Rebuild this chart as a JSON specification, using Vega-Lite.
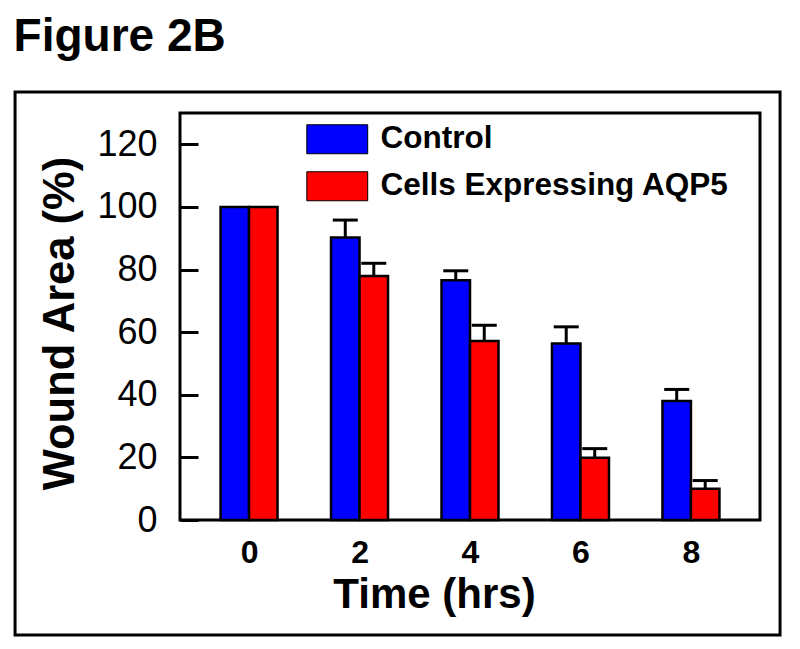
{
  "$schema": "https://vega.github.io/schema/vega-lite/v6.json",
  "width": 580,
  "height": 407,
  "autosize": {"type": "none"},
  "padding": {"left": 180, "top": 113, "right": 40, "bottom": 129},
  "background": "white",
  "title": {"text": "Figure 2B", "anchor": "start", "frame": "bounds", "fontSize": 46, "fontWeight": "bold", "font": "Liberation Sans", "color": "black", "offset": 30},
  "data": {"values": [
    {"time": 0, "group": "Control", "value": 100, "hi": 100},
    {"time": 2, "group": "Control", "value": 90.2, "hi": 95.8},
    {"time": 4, "group": "Control", "value": 76.6, "hi": 79.6},
    {"time": 6, "group": "Control", "value": 56.4, "hi": 61.7},
    {"time": 8, "group": "Control", "value": 38, "hi": 41.7},
    {"time": 0, "group": "Cells Expressing AQP5", "value": 100, "hi": 100},
    {"time": 2, "group": "Cells Expressing AQP5", "value": 77.9, "hi": 82},
    {"time": 4, "group": "Cells Expressing AQP5", "value": 57.2, "hi": 62.2},
    {"time": 6, "group": "Cells Expressing AQP5", "value": 19.9, "hi": 22.8},
    {"time": 8, "group": "Cells Expressing AQP5", "value": 10, "hi": 12.6}
  ]},
  "layer": [
    {
      "transform": [{"filter": "datum.group === 'Control'"}],
      "mark": {"type": "bar", "orient": "vertical", "size": 28.5, "xOffset": -14.25, "stroke": "black", "strokeWidth": 2.5},
      "encoding": {
        "x": {"field": "time", "type": "quantitative", "title": "Time (hrs)",
          "scale": {"domain": [-1.25, 9.25], "nice": false, "zero": false, "padding": 0},
          "axis": {"values": [0, 2, 4, 6, 8], "format": "d", "domain": false, "ticks": false, "tickSize": 0, "grid": false, "labelFontSize": 32, "labelFontWeight": "bold", "labelFont": "Liberation Sans", "labelColor": "black", "labelPadding": 17, "labelFlush": false, "titleFontSize": 42, "titleFontWeight": "bold", "titleFont": "Liberation Sans", "titleColor": "black", "titlePadding": 6, "titleX": 254}},
        "y": {"field": "value", "type": "quantitative", "title": "Wound Area (%)",
          "scale": {"domain": [0, 130], "nice": false, "padding": 0},
          "axis": {"values": [0, 20, 40, 60, 80, 100, 120], "format": "d", "domain": false, "grid": false, "tickSize": -18, "tickWidth": 3, "tickColor": "black", "labelFontSize": 36, "labelFont": "Liberation Sans", "labelColor": "black", "labelPadding": 41, "titleFontSize": 43.5, "titleFontWeight": "bold", "titleFont": "Liberation Sans", "titleColor": "black", "titlePadding": 14, "titleY": 210}},
        "y2": {"datum": 0},
        "color": {"field": "group", "type": "nominal",
          "scale": {"domain": ["Control", "Cells Expressing AQP5"], "range": ["#0000FF", "#FF0000"]},
          "legend": {"title": null, "orient": "none", "legendX": 141.5, "legendY": 10.5, "symbolType": "M-2.1,-1H2.1V1H-2.1Z", "symbolSize": 841, "symbolStrokeColor": "#4a4a8a", "symbolStrokeWidth": 1, "symbolOpacity": 1, "labelFontSize": 31.5, "labelFontWeight": "bold", "labelFont": "Liberation Sans", "labelColor": "black", "labelOffset": 27.5, "rowPadding": 13, "padding": 0, "labelLimit": 600}}
      }
    },
    {
      "transform": [{"filter": "datum.group !== 'Control'"}],
      "mark": {"type": "bar", "orient": "vertical", "size": 28.5, "xOffset": 14.25, "stroke": "black", "strokeWidth": 2.5},
      "encoding": {
        "x": {"field": "time", "type": "quantitative", "title": "Time (hrs)"},
        "y": {"field": "value", "type": "quantitative", "title": "Wound Area (%)"},
        "y2": {"datum": 0},
        "color": {"field": "group", "type": "nominal"}
      }
    },
    {
      "transform": [{"filter": "datum.group === 'Control' && datum.hi > datum.value"}],
      "mark": {"type": "rule", "xOffset": -14.25, "strokeWidth": 3, "color": "black"},
      "encoding": {
        "x": {"field": "time", "type": "quantitative", "title": "Time (hrs)"},
        "y": {"field": "value", "type": "quantitative", "title": "Wound Area (%)"},
        "y2": {"field": "hi"}
      }
    },
    {
      "transform": [{"filter": "datum.group !== 'Control' && datum.hi > datum.value"}],
      "mark": {"type": "rule", "xOffset": 14.25, "strokeWidth": 3, "color": "black"},
      "encoding": {
        "x": {"field": "time", "type": "quantitative", "title": "Time (hrs)"},
        "y": {"field": "value", "type": "quantitative", "title": "Wound Area (%)"},
        "y2": {"field": "hi"}
      }
    },
    {
      "transform": [{"filter": "datum.group === 'Control' && datum.hi > datum.value"}],
      "mark": {"type": "tick", "orient": "horizontal", "xOffset": -14.25, "size": 25, "thickness": 3, "color": "black", "opacity": 1},
      "encoding": {
        "x": {"field": "time", "type": "quantitative", "title": "Time (hrs)"},
        "y": {"field": "hi", "type": "quantitative", "title": "Wound Area (%)"}
      }
    },
    {
      "transform": [{"filter": "datum.group !== 'Control' && datum.hi > datum.value"}],
      "mark": {"type": "tick", "orient": "horizontal", "xOffset": 14.25, "size": 25, "thickness": 3, "color": "black", "opacity": 1},
      "encoding": {
        "x": {"field": "time", "type": "quantitative", "title": "Time (hrs)"},
        "y": {"field": "hi", "type": "quantitative", "title": "Wound Area (%)"}
      }
    },
    {
      "data": {"values": [{}]},
      "mark": {"type": "rect", "fill": null, "fillOpacity": 0, "stroke": "black", "strokeWidth": 3},
      "encoding": {
        "x": {"datum": -4.236, "type": "quantitative", "title": "Time (hrs)"},
        "x2": {"datum": 9.613},
        "y": {"datum": -36.7, "type": "quantitative", "title": "Wound Area (%)"},
        "y2": {"datum": 136.7}
      }
    }
  ],
  "config": {
    "font": "Liberation Sans",
    "view": {"stroke": "black", "strokeWidth": 3}
  }
}
